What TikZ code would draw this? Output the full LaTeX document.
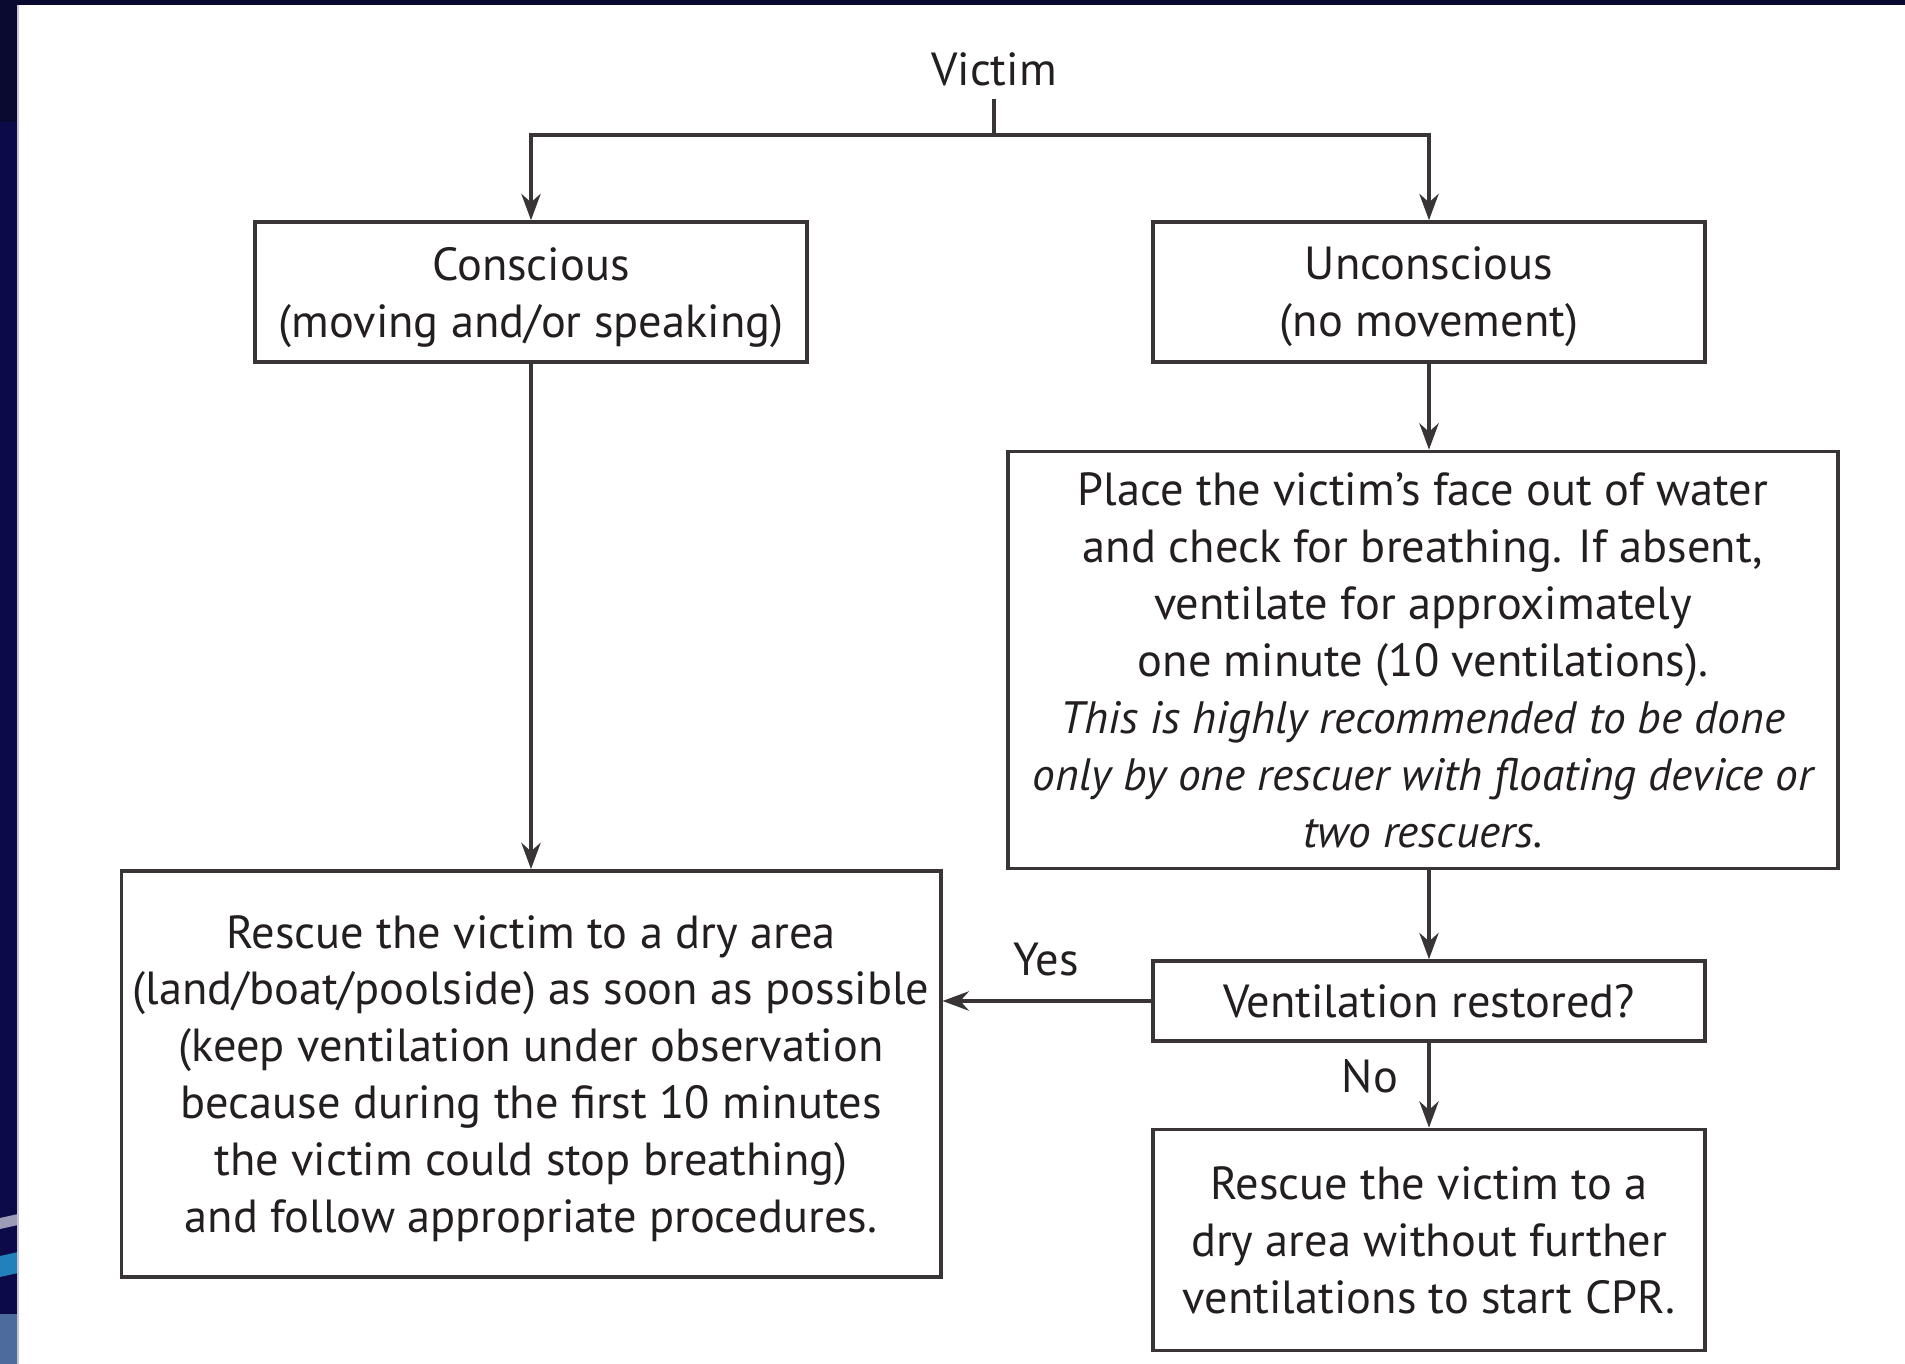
\documentclass[tikz,border=0pt]{standalone}
\usepackage{fontspec}
\setmainfont{PT Sans}
\usetikzlibrary{arrows.meta}
\definecolor{ink}{HTML}{231F20}
\definecolor{rim}{HTML}{0A0A30}
\definecolor{navy}{HTML}{0C0A48}
\definecolor{haze}{HTML}{9C9CB8}
\definecolor{sea}{HTML}{2281BA}
\definecolor{sky}{HTML}{4C6C9E}

\begin{document}
\begin{tikzpicture}[x=0.01cm,y=-0.01cm,text=ink,
  font=\fontsize{13.2}{16.2}\selectfont,
  >={Stealth[length=7.5pt,width=5.5pt]},
  box/.style={draw=ink!90,line width=1pt,align=center,inner sep=0pt},
  link/.style={->,draw=ink!90,line width=1pt}]
  % frame of the slide
  \useasboundingbox (0,0) rectangle (1905,1364);
  \fill[white] (0,0) rectangle (1905,1364);
  \fill[rim] (0,0) rectangle (1905,5);
  \fill[rim] (0,0) rectangle (18,122);
  \fill[navy] (0,122) rectangle (18,1364);
  \fill[haze] (0,1218) -- (18,1214) -- (18,1225) -- (0,1229) -- cycle;
  \fill[sea] (0,1256) -- (18,1252) -- (18,1273) -- (0,1277) -- cycle;
  \fill[sky] (0,1314) rectangle (18,1364);
  \draw[haze!60,line width=.4pt] (18,5) -- (18,1364);

  % nodes
  \node[inner xsep=0pt,inner ysep=3.5pt] (victim) at (994,69) {Victim};
  \coordinate (split) at (994,135);
  \node[box,minimum width=5.52cm,minimum height=1.40cm,text depth=0pt] (conscious) at (531,292)
    {Conscious\\(moving and/or speaking)};
  \node[box,minimum width=5.52cm,minimum height=1.40cm,text depth=0pt] (unconscious) at (1429,292)
    {Unconscious\\(no movement)};
  \node[box,minimum width=8.30cm,minimum height=4.17cm] (face) at (1423,660)
    {Place the victim’s face out of water\\
     and check for breathing. If absent,\\
     ventilate for approximately\\
     one minute (10 ventilations).\\
     {\fontsize{12.9}{16.2}\selectfont\itshape This is highly recommended to be done}\\
     {\fontsize{12.9}{16.2}\selectfont\itshape only by one rescuer with floating device or}\\
     {\fontsize{12.9}{16.2}\selectfont\itshape two rescuers.}};
  \node[box,minimum width=5.52cm,minimum height=0.80cm] (restored) at (1429,1001)
    {Ventilation restored?};
  \node[box,minimum width=5.52cm,minimum height=2.21cm] (cpr) at (1429,1240)
    {Rescue the victim to a\\
     dry area without further\\
     ventilations to start CPR.};
  \node[box,minimum width=8.19cm,minimum height=4.06cm,text depth=0pt] (dry) at (531,1074)
    {Rescue the victim to a dry area\\
     (land/boat/poolside) as soon as possible\\
     (keep ventilation under observation\\
     because during the first 10 minutes\\
     the victim could stop breathing)\\
     and follow appropriate procedures.};
  \node[inner sep=0pt] (yes) at (1046,960) {Yes};
  \node[inner sep=0pt] (no) at (1370,1076) {No};

  % connectors
  \draw[draw=ink!90,line width=1pt] (victim.south) -- (split);
  \draw[link] (split) -| (conscious.north);
  \draw[link] (split) -| (unconscious.north);
  \draw[link] (unconscious.south) -- (unconscious.south |- face.north);
  \draw[link] (unconscious.south |- face.south) -- (restored.north);
  \draw[link] (restored.west) -- (dry.east |- restored.west);
  \draw[link] (restored.south) -- (cpr.north);
  \draw[link] (conscious.south) -- (dry.north);
\end{tikzpicture}
\end{document}
